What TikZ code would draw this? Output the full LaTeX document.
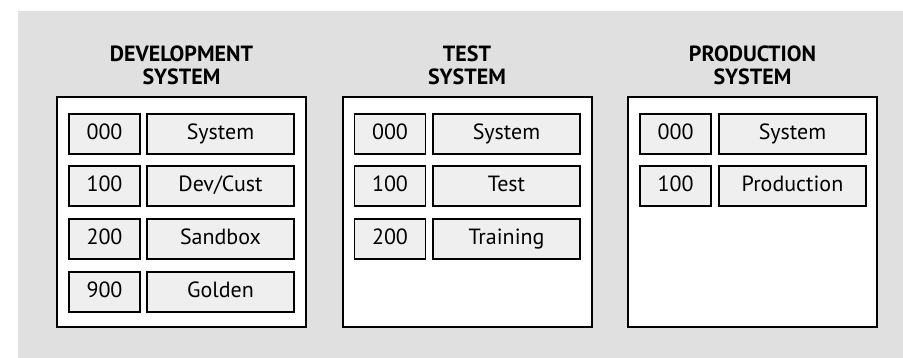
\documentclass[tikz,border=0pt]{standalone}
\usepackage{fontspec}
\setmainfont{PT Sans}
\usepackage{tikz}
\usetikzlibrary{positioning}
\definecolor{bggray}{HTML}{E0E0E0}
\definecolor{cellgray}{HTML}{EFEFEF}
\tikzset {
    sys box/.style={
        draw=black,
        fill=white,
        line width=2pt,
        rectangle, % the outer system frame
        minimum width=249pt,
        minimum height=230pt,
        inner sep=0pt,
    },
    num cell/.style={
        draw=black,
        fill=cellgray,
        line width=1.5pt,
        rectangle,
        minimum width=71pt,
        minimum height=40pt,
        inner sep=0pt,
        text height=15.5pt,
        text depth=5pt,
        font=\fontsize{22}{23}\selectfont,
    },
    name cell/.style={
        num cell,
        minimum width=147pt,
    },
    sys title/.style={
        draw=none,
        align=center,
        inner sep=0pt,
        anchor=base,
        font=\fontsize{22}{23}\selectfont\bfseries,
    },
}
\begin{document}
\begin{tikzpicture}[x=1pt, y=-1pt]
\useasboundingbox (0,0) rectangle (903,358);
\fill[bggray] (18,11) rectangle (903,358);

% development system
\node[sys box] at (181.5, 212) (dev) {};
\node[sys title] at (181.5, 85) (devtitle) {DEVELOPMENT\\SYSTEM};
\node[num cell] at (104.5, 134) (dev000) {000};
\node[name cell] at (220.5, 134) (devsys) {System};
\node[num cell] at (104.5, 186) (dev100) {100};
\node[name cell] at (220.5, 186) (devcust) {Dev/Cust};
\node[num cell] at (104.5, 239) (dev200) {200};
\node[name cell] at (220.5, 239) (devsand) {Sandbox};
\node[num cell] at (104.5, 292) (dev900) {900};
\node[name cell] at (220.5, 292) (devgold) {Golden};

% test system
\node[sys box] at (467, 212.5) (test) {};
\node[sys title] at (467, 85) (testtitle) {TEST\\SYSTEM};
\node[num cell] at (390, 134) (test000) {000};
\node[name cell] at (506.5, 134) (testsys) {System};
\node[num cell] at (390, 186) (test100) {100};
\node[name cell] at (506.5, 186) (testtest) {Test};
\node[num cell] at (390, 239) (test200) {200};
\node[name cell] at (506.5, 239) (testtrain) {Training};

% production system
\node[sys box] at (752.5, 212.5) (prod) {};
\node[sys title] at (752.5, 85) (prodtitle) {PRODUCTION\\SYSTEM};
\node[num cell] at (675.5, 134) (prod000) {000};
\node[name cell] at (792.5, 134) (prodsys) {System};
\node[num cell] at (675.5, 186) (prod100) {100};
\node[name cell] at (792.5, 186) (prodprod) {Production};
\end{tikzpicture}
\end{document}
